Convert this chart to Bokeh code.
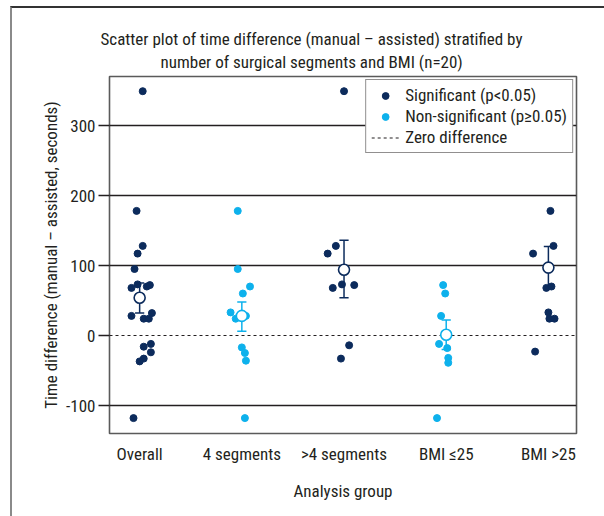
from bokeh.plotting import figure
from bokeh.models import (FixedTicker, Title, Legend, LegendItem, ColumnDataSource)
from bokeh.embed import file_html
from bokeh.resources import INLINE

# ---------------- data ----------------
categories = ["Overall", "4 segments", ">4 segments", "BMI \u226425", "BMI >25"]
group_significant = [True, False, True, False, True]

overall_values = [349, 178, 128, 117, 95, 68, 73, 70, 72, 28, 32, 24, 24, -16, -12, -24, -33, -37, -118]
overall_jitter = [0.03, -0.03, 0.03, -0.02, -0.05, -0.08, -0.02, 0.07, 0.10, -0.08, 0.12, 0.04, 0.09, 0.04, 0.11, 0.11, 0.04, 0.0, -0.06]

seg4_values = [178, 95, 70, 60, 33, 24, 28, -17, -25, -36, -118]
seg4_jitter = [-0.04, -0.04, 0.08, 0.01, -0.11, -0.06, 0.04, 0.0, 0.03, 0.04, 0.03]

seg_gt4_values = [349, 128, 117, 68, 73, 72, -14, -33]
seg_gt4_jitter = [0.0, -0.08, -0.16, -0.11, -0.02, 0.10, 0.05, -0.03]

bmi_le25_values = [72, 60, 28, -12, -18, -32, -39, -118]
bmi_le25_jitter = [-0.03, -0.01, -0.05, -0.07, 0.01, 0.02, 0.02, -0.09]

bmi_gt25_values = [178, 128, 117, 68, 70, 33, 24, 24, -23]
bmi_gt25_jitter = [0.02, 0.05, -0.15, -0.02, 0.03, 0.0, 0.01, 0.06, -0.13]

group_means = [54, 28, 94, 1, 97]
group_ci_low = [32, 6, 54, -20, 67]
group_ci_high = [75, 48, 136, 22, 127]

y_ticks = [-100, 0, 100, 200, 300]
zero_level = 0

title_lines = ["Scatter plot of time difference (manual \u2013 assisted) stratified by",
               "number of surgical segments and BMI (n=20)"]
y_label = "Time difference (manual \u2013 assisted, seconds)"
x_label = "Analysis group"
legend_labels = ["Significant (p<0.05)", "Non-significant (p\u22650.05)", "Zero difference"]

# ---------------- style ----------------
NAVY = "#0c2b5c"
CYAN = "#0db1ec"
INK = "#231f20"
FRAME = "#5a5a5a"
FONT = "Roboto Condensed"
FS = "17px"

X_RANGE = (-0.295, 4.275)
Y_RANGE = (-140, 370)
OFF_L, OFF_T = 12, 8            # outer panel border offset
FRAME_L, FRAME_T, FRAME_W, FRAME_H = 109, 76, 467, 357

p = figure(frame_width=FRAME_W, frame_height=FRAME_H,
           x_range=X_RANGE, y_range=Y_RANGE,
           min_border_left=FRAME_L - OFF_L, min_border_right=604 - FRAME_L - FRAME_W,
           min_border_top=FRAME_T - OFF_T, min_border_bottom=516 - FRAME_T - FRAME_H,
           output_backend="svg", toolbar_location=None,
           background_fill_color="white", border_fill_color="white")
p.margin = (OFF_T - 2, 0, 0, OFF_L - 2)
p.styles = {"border-left": "2px solid #8a8a8a", "border-top": "2px solid #333333"}

p.outline_line_color = FRAME
p.outline_line_width = 1.6

# axes
for ax in (p.xaxis[0], p.yaxis[0]):
    ax.axis_line_color = None
    ax.minor_tick_line_color = None
    ax.major_label_text_font = FONT
    ax.major_label_text_font_size = FS
    ax.major_label_text_color = INK
    ax.axis_label_text_font = FONT
    ax.axis_label_text_font_size = FS
    ax.axis_label_text_font_style = "normal"
    ax.axis_label_text_color = INK

p.yaxis.ticker = FixedTicker(ticks=y_ticks)
p.yaxis.major_label_overrides = {t: str(t) for t in y_ticks}
p.yaxis.major_tick_out = 11
p.yaxis.major_tick_in = 0
p.yaxis.major_tick_line_color = INK
p.yaxis.major_tick_line_width = 1.3
p.yaxis.major_label_standoff = 3
p.yaxis.axis_label = y_label
p.yaxis.axis_label_standoff = 2

p.xaxis.ticker = FixedTicker(ticks=list(range(len(categories))))
p.xaxis.major_label_overrides = {i: c for i, c in enumerate(categories)}
p.xaxis.major_tick_line_color = None
p.xaxis.major_tick_out = 0
p.xaxis.major_tick_in = 0
p.xaxis.major_label_standoff = 10
p.xaxis.axis_label = x_label
p.xaxis.axis_label_standoff = 14

# grid
p.xgrid.visible = False
p.ygrid.ticker = FixedTicker(ticks=[t for t in y_ticks if t != zero_level])
p.ygrid.grid_line_color = INK
p.ygrid.grid_line_width = 1.3

# zero reference line (spans the full x range)
r_zero = p.line(x=list(X_RANGE), y=[zero_level, zero_level], line_color=INK,
                line_width=1.2, line_dash="3 3")

# points
groups = [(overall_values, overall_jitter), (seg4_values, seg4_jitter),
          (seg_gt4_values, seg_gt4_jitter), (bmi_le25_values, bmi_le25_jitter),
          (bmi_gt25_values, bmi_gt25_jitter)]

sig = {"x": [], "y": []}
non = {"x": [], "y": []}
for i, (vals, jit) in enumerate(groups):
    target = sig if group_significant[i] else non
    for v, j in zip(vals, jit):
        target["x"].append(i + j)
        target["y"].append(v)

colors = [NAVY if s else CYAN for s in group_significant]
idx = list(range(len(categories)))
cap = 0.045

eb = ColumnDataSource(dict(x=idx, lo=group_ci_low, hi=group_ci_high,
                           xl=[i - cap for i in idx], xr=[i + cap for i in idx],
                           c=colors, m=group_means))
p.segment(x0="x", y0="lo", x1="x", y1="hi", source=eb, line_color="c", line_width=1.5)
p.segment(x0="xl", y0="hi", x1="xr", y1="hi", source=eb, line_color="c", line_width=1.5)
p.segment(x0="xl", y0="lo", x1="xr", y1="lo", source=eb, line_color="c", line_width=1.5)

r_sig = p.scatter(x=sig["x"], y=sig["y"], size=7, fill_color=NAVY, line_color=NAVY)
r_non = p.scatter(x=non["x"], y=non["y"], size=7, fill_color=CYAN, line_color=CYAN)

p.scatter(x="x", y="m", source=eb, size=11, fill_color="white", line_color="c", line_width=1.6)

legend = Legend(items=[LegendItem(label=legend_labels[0], renderers=[r_sig]),
                       LegendItem(label=legend_labels[1], renderers=[r_non]),
                       LegendItem(label=legend_labels[2], renderers=[r_zero])],
                location="top_right")
legend.border_line_color = INK
legend.border_line_width = 1.3
legend.background_fill_alpha = 1
legend.padding = 5
legend.spacing = 1
legend.margin = 3
legend.glyph_width = 28
legend.glyph_height = 17
legend.label_height = 17
legend.label_standoff = 6
legend.label_text_font = FONT
legend.label_text_font_size = FS
legend.label_text_color = INK
p.add_layout(legend)

# two-line title; second line added first (closest to the frame)
title_offsets = [-9, 51]
p.add_layout(Title(text=title_lines[1], align="left", offset=title_offsets[1],
                   vertical_align="top", standoff=6,
                   text_font=FONT, text_font_size=FS,
                   text_font_style="normal", text_color=INK), "above")
p.add_layout(Title(text=title_lines[0], align="left", offset=title_offsets[0],
                   vertical_align="bottom", standoff=0,
                   text_font=FONT, text_font_size=FS,
                   text_font_style="normal", text_color=INK), "above")

open("out.html", "w").write(file_html(p, INLINE))
